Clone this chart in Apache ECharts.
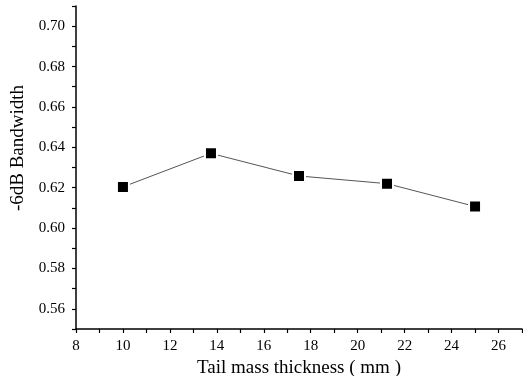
<!DOCTYPE html>
<html>
<head>
<meta charset="utf-8">
<script src="https://cdn.jsdelivr.net/npm/echarts@6/dist/echarts.min.js"></script>
<style>
  html, body { margin: 0; padding: 0; background: #fff; }
  #chart { width: 523px; height: 376px; }
</style>
</head>
<body>
<div id="chart"></div>
<script>
const thickness = [10, 13.75, 17.5, 21.25, 25];
const bandwidth = [0.6204, 0.637, 0.6258, 0.622, 0.6107];

const font = 'Liberation Serif';
const chart = echarts.init(document.getElementById('chart'));

const option = {
  backgroundColor: '#fff',
  animation: false,
  grid: {
    left: 76,
    right: 1,
    top: 6,
    bottom: 47,
    outerBoundsMode: 'none',
    containLabel: false,
  },
  xAxis: {
    type: 'value',
    min: 8,
    max: 27,
    interval: 1,
    name: 'Tail mass thickness ( mm )',
    nameLocation: 'middle',
    nameGap: 29,
    nameTextStyle: { fontFamily: font, fontSize: 19, color: '#000' },
    axisLine: { show: true, lineStyle: { color: '#000', width: 1.5 } },
    axisTick: { show: true, length: 4, lineStyle: { color: '#000', width: 1.2 } },
    axisLabel: {
      fontFamily: font,
      fontSize: 15,
      color: '#000',
      margin: 10,
      formatter: v => (Math.round(v) % 2 === 0 ? String(Math.round(v)) : ''),
    },
    splitLine: { show: false },
  },
  yAxis: {
    type: 'value',
    min: 0.55,
    max: 0.71,
    interval: 0.01,
    name: '-6dB Bandwidth',
    nameLocation: 'middle',
    nameGap: 41,
    nameTextStyle: { fontFamily: font, fontSize: 19, color: '#000', padding: [0, 0, 0, 39] },
    axisLine: { show: true, lineStyle: { color: '#000', width: 1.5 } },
    axisTick: { show: true, length: 4, lineStyle: { color: '#000', width: 1.2 } },
    axisLabel: {
      fontFamily: font,
      fontSize: 15,
      color: '#000',
      margin: 11,
      formatter: v => (Math.round(v * 100) % 2 === 0 ? v.toFixed(2) : ''),
    },
    splitLine: { show: false },
  },
  series: [
    {
      type: 'line',
      data: thickness.map((x, i) => [x, bandwidth[i]]),
      symbol: 'rect',
      symbolSize: 12,
      lineStyle: { color: '#555', width: 1 },
      itemStyle: { color: '#000', borderColor: '#fff', borderWidth: 2 },
    },
  ],
};
chart.setOption(option);
</script>
</body>
</html>
